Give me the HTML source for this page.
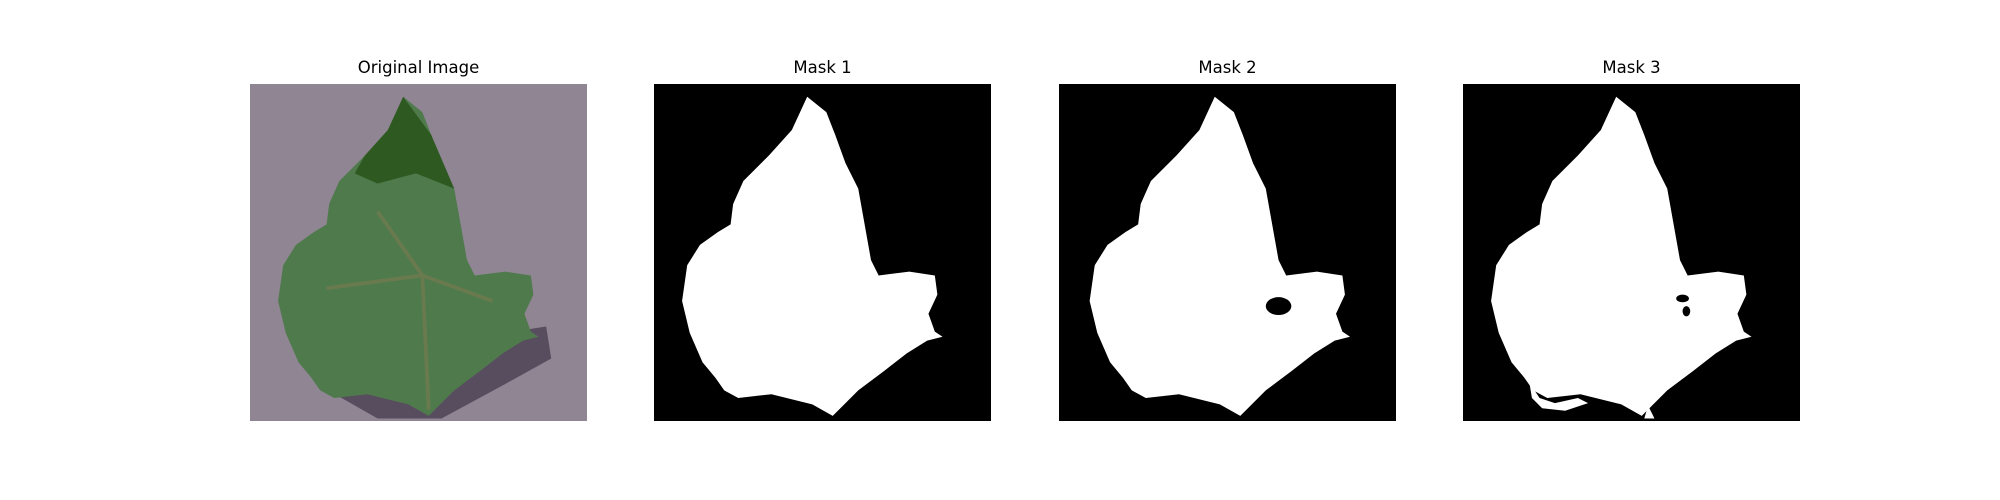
<!DOCTYPE html>
<html><head><meta charset="utf-8"><style>
body{margin:0;background:#fff;width:2000px;height:500px;overflow:hidden;font-family:"DejaVu Sans","Liberation Sans",sans-serif}
.t{position:absolute;top:58px;width:337px;text-align:center;font-size:16.5px;color:#000}
svg.p{position:absolute;top:84px;width:337px;height:337px}
</style></head><body>
<svg width="0" height="0" style="position:absolute"><defs>
<path id="leaf" stroke-linejoin="round" d="M120,10 L135,22 L142,40 L150,62 L160,82 L165,110 L170,138 L176,150 L200,147 L220,150 L222,165 L215,180 L220,194 L226,198 L214,201 L198,211 L180,225 L160,240 L146,254 L140,260 L124,251 L92,243 L66,246 L55,240 L48,230 L38,218 L28,195 L22,170 L26,142 L36,126 L50,116 L60,110 L62,94 L70,76 L90,56 L108,36 Z"/>
</defs></svg>

<div class="t" style="left:250px">Original Image</div>
<svg class="p" style="left:250px" viewBox="0 0 264 264" preserveAspectRatio="none">
<rect width="264" height="264" fill="#8f8593"/>
<path d="M150,210 L200,195 L232,190 L236,215 L200,235 L150,262 L100,262 L70,245 Z" fill="#4a3f52" opacity="0.8"/>
<use href="#leaf" fill="#4f7a4c"/>
<path d="M120,10 L142,40 L160,82 L130,70 L100,78 L82,70 L90,56 L108,36 Z" fill="#2e5a22"/>
<path d="M140,255 L135,150 M135,150 L100,100 M135,150 L60,160 M135,150 L190,170" stroke="#7a7a50" stroke-width="3" fill="none" opacity="0.6"/>
</svg>

<div class="t" style="left:654px">Mask 1</div>
<svg class="p" style="left:654px" viewBox="0 0 264 264" preserveAspectRatio="none">
<rect width="264" height="264" fill="#000"/>
<use href="#leaf" fill="#fff"/>
</svg>

<div class="t" style="left:1059px">Mask 2</div>
<svg class="p" style="left:1059px" viewBox="0 0 264 264" preserveAspectRatio="none">
<rect width="264" height="264" fill="#000"/>
<use href="#leaf" fill="#fff" transform="translate(2,0)"/>
<ellipse cx="172" cy="174" rx="10" ry="7" fill="#000"/>
</svg>

<div class="t" style="left:1463px">Mask 3</div>
<svg class="p" style="left:1463px" viewBox="0 0 264 264" preserveAspectRatio="none">
<rect width="264" height="264" fill="#000"/>
<use href="#leaf" fill="#fff"/>
<path d="M52,234 L60,246 L72,250 L90,246 L98,250 L80,256 L62,254 L54,246 Z" fill="#fff"/>
<path d="M145,252 L150,262 L142,262 Z" fill="#fff"/>
<ellipse cx="172" cy="168" rx="5" ry="3" fill="#000"/>
<ellipse cx="175" cy="178" rx="3" ry="4" fill="#000"/>
</svg>
</body></html>
